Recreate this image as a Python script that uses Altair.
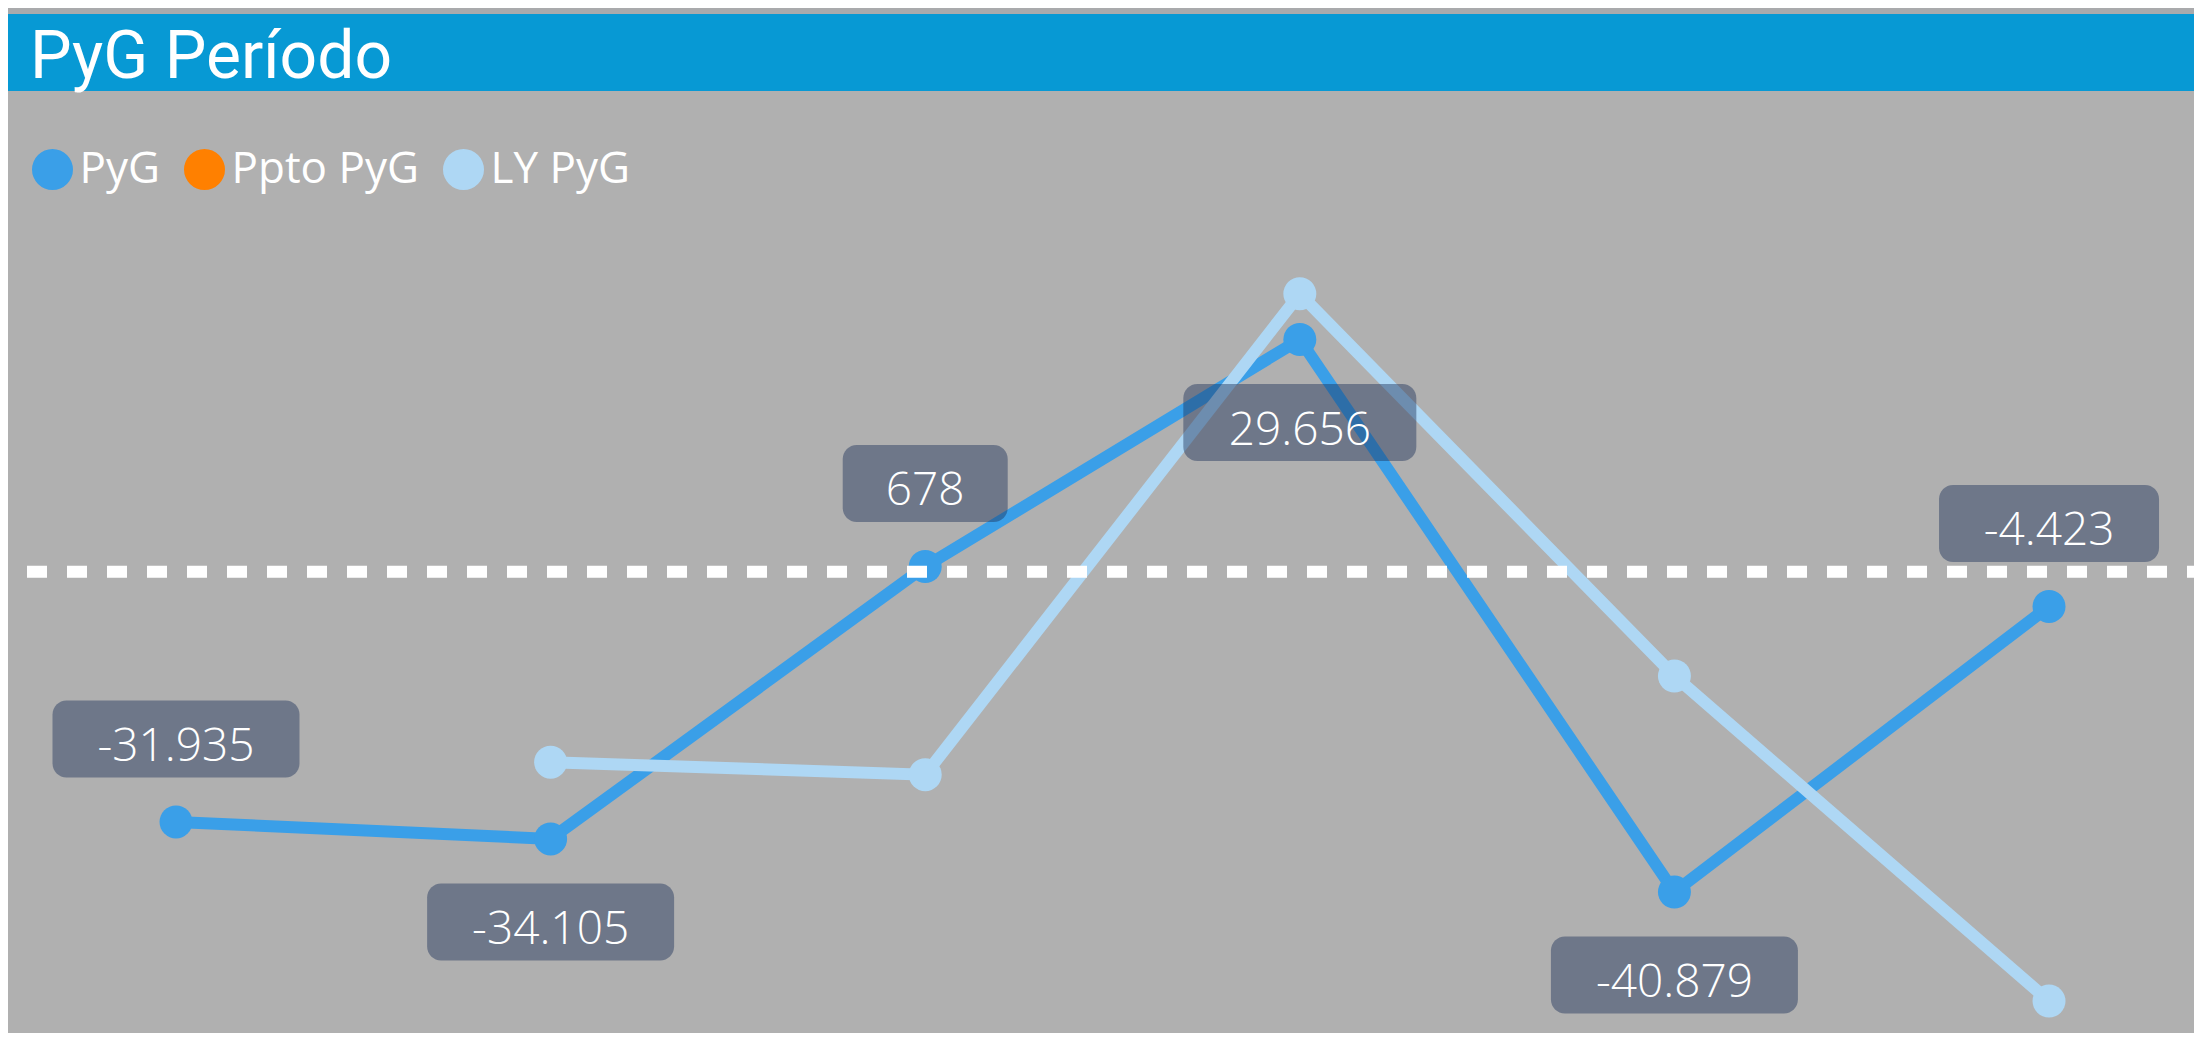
import altair as alt
import pandas as pd

# ---------------- data ----------------
periods = [0, 1, 2, 3, 4, 5]
pyg = [-31935, -34105, 678, 29656, -40879, -4423]
ly_pyg = [None, -24300, -25900, 35500, -13300, -54800]
label_side = ["above", "below", "above", "below", "below", "above"]
series_names = ["PyG", "Ppto PyG", "LY PyG"]
series_colors = ["#3a9fe8", "#ff8000", "#aed7f4"]
title_text = "PyG Período"

# ---------------- layout ----------------
W, H = 2186, 1025
x_dom = [-0.4485, 5.387]
y_dom = [-58879, 71978]
px_per_idx = W / (x_dom[1] - x_dom[0])

rows = []
for i, (p, v) in enumerate(zip(periods, pyg)):
    rows.append({"idx": p, "serie": "PyG", "valor": v, "lado": label_side[i]})
for p, v in zip(periods, ly_pyg):
    if v is not None:
        rows.append({"idx": p, "serie": "LY PyG", "valor": v, "lado": ""})
df = pd.DataFrame(rows)
one = pd.DataFrame({"k": [0]})

xs = alt.Scale(domain=x_dom, nice=False, zero=False)
ys = alt.Scale(domain=y_dom, nice=False, zero=False)
X = alt.X("idx:Q", scale=xs, axis=None)
Y = alt.Y("valor:Q", scale=ys, axis=None)
cscale = alt.Scale(domain=series_names, range=series_colors)

legend = alt.Legend(
    title=None, orient="none", legendX=22.5, legendY=139.5,
    direction="horizontal", symbolType="circle", symbolSize=1681,
    labelFontSize=44, labelFont="Open Sans", labelColor="white",
    labelOffset=5, columnPadding=22, symbolStrokeWidth=0, padding=0,
    labelLimit=0, symbolOpacity=1,
)

base = alt.Chart(df)

strip = alt.Chart(one).mark_rect(color="#a9aaac").encode(
    x=alt.value(0), x2=alt.value(W), y=alt.value(0), y2=alt.value(6))
bar = alt.Chart(one).mark_rect(color="#0799d4").encode(
    x=alt.value(0), x2=alt.value(W), y=alt.value(6), y2=alt.value(83))
title = alt.Chart(one).mark_text(
    text=title_text, font="Roboto", fontSize=66, color="white",
    align="left", baseline="alphabetic").encode(x=alt.value(22), y=alt.value(70))

def series_layers(name):
    col = series_colors[series_names.index(name)]
    d = base.transform_filter(f"datum.serie == '{name}'")
    line = d.mark_line(strokeWidth=12, color=col).encode(x=X, y=Y)
    pts = d.mark_circle(size=1089, opacity=1).encode(
        x=X, y=Y, color=alt.Color("serie:N", scale=cscale, legend=legend))
    return [line, pts]

pyg_layers = series_layers("PyG")
ly_layers = series_layers("LY PyG")

zero_rule = alt.Chart(one).mark_rule(color="white", strokeWidth=12, strokeDash=[20, 20]).encode(
    x=alt.value(19), x2=alt.value(W), y=alt.YDatum(0, scale=ys, axis=None))

lbl_expr = ("(datum.valor < 0 ? '-' : '') + "
            "replace(format(abs(datum.valor), ','), regexp(',', 'g'), '.')")
labels = (
    base.transform_filter("datum.serie == 'PyG'")
    .transform_calculate(lbl=lbl_expr)
    .transform_calculate(
        wpx="84 + 27*length(replace(datum.lbl, regexp('[^0-9]', 'g'), '')) + "
            "14*length(replace(datum.lbl, regexp('[0-9]', 'g'), ''))")
    .transform_calculate(
        xa=f"datum.idx - datum.wpx/2/{px_per_idx}",
        xb=f"datum.idx + datum.wpx/2/{px_per_idx}")
)

box_layers = []
for side, off in (("above", -83), ("below", 83)):
    d = labels.transform_filter(f"datum.lado == '{side}'")
    box = d.mark_rect(color="#1f335c", opacity=0.45, cornerRadius=14,
                      yOffset=off - 38.5, y2Offset=off + 38.5).encode(
        x=alt.X("xa:Q", scale=xs, axis=None), x2="xb:Q",
        y=Y, y2="valor:Q")
    txt = d.mark_text(font="Open Sans", fontSize=46, fontWeight=300, color="white",
                      align="center", baseline="alphabetic", dy=off + 22).encode(
        x=X, y=Y, text="lbl:N")
    box_layers += [box, txt]

chart = alt.layer(
    strip, bar, title, *pyg_layers, *ly_layers, zero_rule, *box_layers
).properties(
    width=W, height=H, autosize=alt.AutoSizeParams(type="none"), padding=0,
    background="#b0b0b0",
).configure_view(strokeWidth=0)

chart.save("out.html", embed_options={"renderer": "svg", "actions": False})
